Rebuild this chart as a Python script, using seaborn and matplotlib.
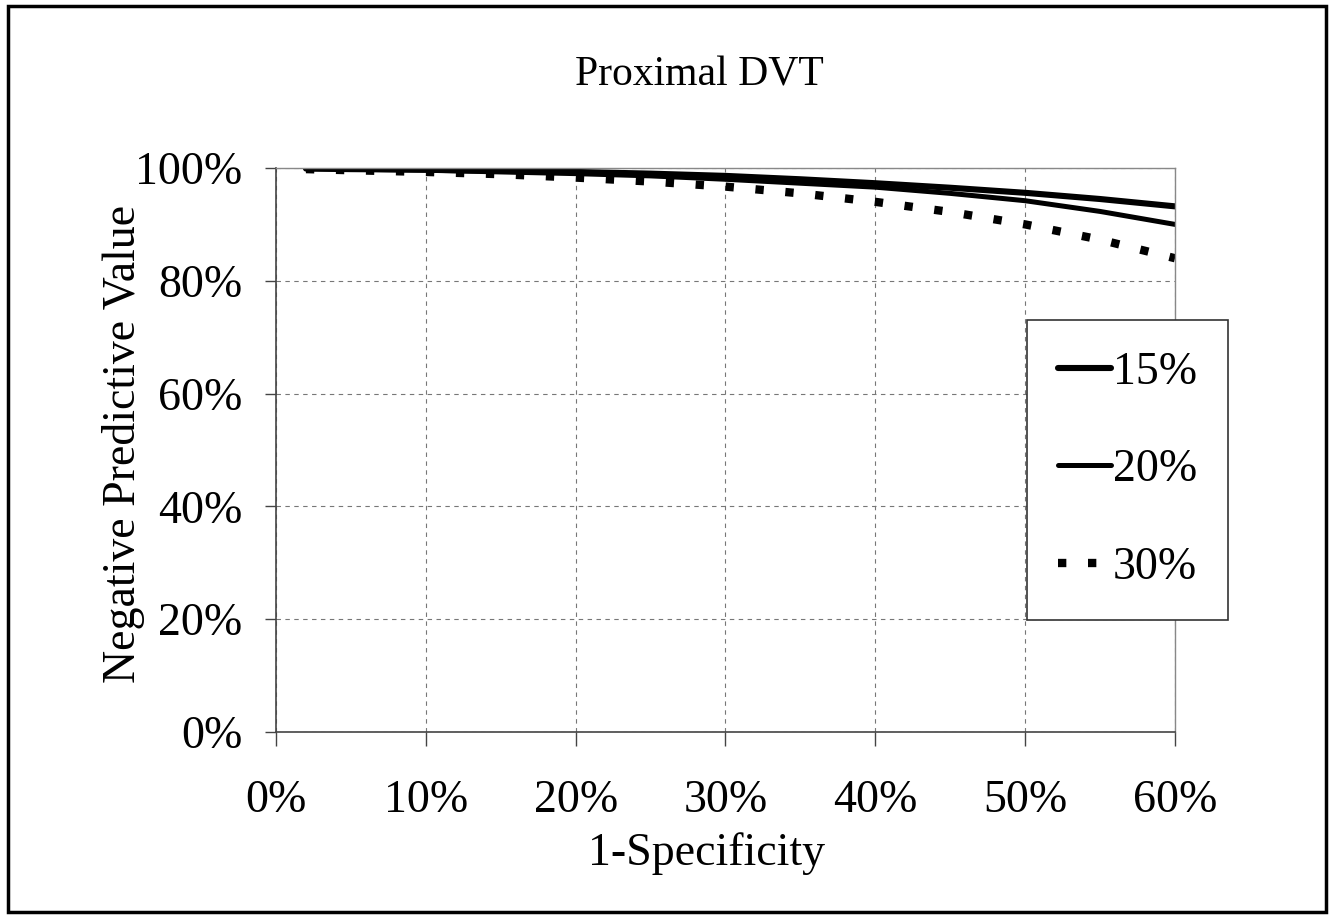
import numpy as np
import pandas as pd
import matplotlib
matplotlib.use("Agg")
import matplotlib.pyplot as plt
import seaborn as sns
from matplotlib.patches import Rectangle
from matplotlib.ticker import PercentFormatter

# 1-Specificity (%) and Negative Predictive Value (%) for each prevalence
x_spec = [2, 5, 10, 15, 20, 25, 30, 35, 40, 45, 50, 55, 60]
npv_15 = [99.9, 99.8, 99.7, 99.5, 99.3, 99.0, 98.6, 98.0, 97.3, 96.5, 95.6, 94.5, 93.2]
npv_20 = [99.9, 99.8, 99.6, 99.3, 99.0, 98.6, 98.0, 97.3, 96.6, 95.5, 94.2, 92.3, 90.0]
npv_30 = [99.8, 99.6, 99.3, 98.9, 98.3, 97.6, 96.7, 95.5, 94.0, 92.2, 90.0, 87.3, 84.0]
series_labels = ["15%", "20%", "30%"]

x_ticks = [0, 10, 20, 30, 40, 50, 60]
y_ticks = [0, 20, 40, 60, 80, 100]

sns.set_style("white")
plt.rcParams['font.family'] = ['Liberation Serif', 'DejaVu Serif']
plt.rcParams['text.color'] = 'black'
plt.rcParams['axes.labelcolor'] = 'black'
plt.rcParams['xtick.color'] = 'black'
plt.rcParams['ytick.color'] = 'black'

fig = plt.figure(figsize=(13.34, 9.17), dpi=100)
ax = fig.add_axes([0.2069, 0.2017, 0.8808 - 0.2069, 0.8168 - 0.2017])

styles = [
    dict(linewidth=4.4, linestyle='-'),
    dict(linewidth=3.6, linestyle='-'),
    dict(linewidth=6.0, linestyle=(0, (1.0, 2.6))),
]
for vals, lab, st in zip([npv_15, npv_20, npv_30], series_labels, styles):
    sns.lineplot(x=x_spec, y=vals, ax=ax, color='black', label=lab, **st)

ax.set_xlim(0, 60)
ax.set_ylim(0, 100)
ax.set_xticks(x_ticks)
ax.set_yticks(y_ticks)
ax.xaxis.set_major_formatter(PercentFormatter(decimals=0))
ax.yaxis.set_major_formatter(PercentFormatter(decimals=0))

ax.grid(True, color='#777777', linestyle=(0, (4, 4)), linewidth=0.8)
for s in ['top', 'right']:
    ax.spines[s].set_color('#888888')
    ax.spines[s].set_linewidth(1.0)
for s in ['left', 'bottom']:
    ax.spines[s].set_color('#444444')
    ax.spines[s].set_linewidth(1.2)

ax.tick_params(axis='x', direction='out', length=10, width=1, color='#444444',
               labelsize=33, pad=24, bottom=True, labelcolor='black')
ax.tick_params(axis='y', direction='out', length=8, width=1, color='#444444',
               labelsize=33, pad=16, left=True, labelcolor='black')

ax.set_xlabel("1-Specificity", fontsize=33, color='black')
ax.xaxis.set_label_coords(0.479, -0.178)
ax.set_ylabel("Negative Predictive Value", fontsize=33, color='black')
ax.yaxis.set_label_coords(-0.146, 0.51)
fig.text(0.524, 0.918, "Proximal DVT", fontsize=30, color='black',
         ha='center', va='center')

leg = ax.legend(loc='upper left', bbox_to_anchor=(0.835, 0.730), frameon=True,
                fancybox=False, shadow=False, fontsize=33, handlelength=1.15,
                handletextpad=0.05, labelspacing=1.2, borderpad=0.68,
                borderaxespad=0)
leg.get_frame().set_edgecolor('#333333')
leg.get_frame().set_linewidth(1.2)
leg.get_frame().set_alpha(1)
for t in leg.get_texts():
    t.set_color('black')

fig.patches.append(Rectangle((0.006, 0.005), 0.988, 0.989, transform=fig.transFigure,
                             fill=False, edgecolor='black', linewidth=2.5))

fig.savefig("out.png", dpi=100, facecolor='white')
